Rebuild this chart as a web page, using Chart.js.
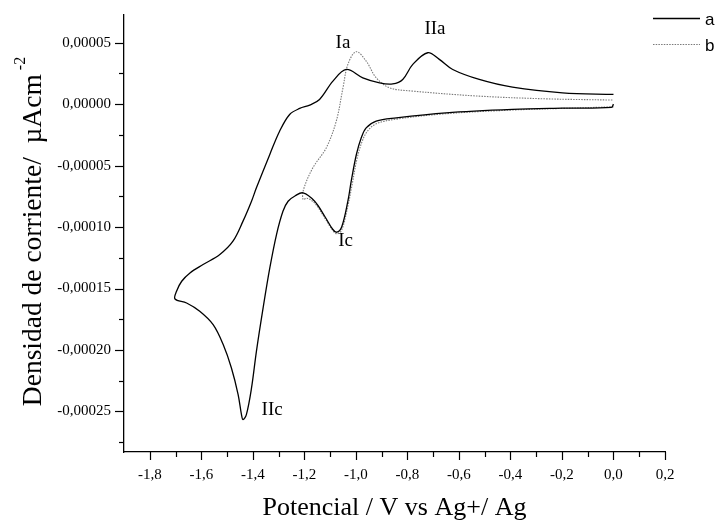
<!DOCTYPE html>
<html>
<head>
<meta charset="utf-8">
<script src="https://cdn.jsdelivr.net/npm/chart.js@4/dist/chart.umd.min.js"></script>
<style>
html,body{margin:0;padding:0;background:#fff;}
#wrap{position:relative;width:720px;height:521px;}
</style>
</head>
<body>
<div id="wrap"><canvas id="c" width="720" height="521"></canvas></div>
<script>
// ---- data (potential V, current density) ----
const aX = [0.0, -0.008, -0.2, -0.392, -0.65, -0.843, -0.921, -0.960, -0.979, -0.998, -1.018, -1.031, -1.055, -1.074, -1.090, -1.121, -1.160, -1.205, -1.235, -1.263, -1.283, -1.308, -1.334, -1.360, -1.386, -1.405, -1.425, -1.438, -1.444, -1.457, -1.483, -1.515, -1.554, -1.606, -1.657, -1.702,
  -1.696, -1.676, -1.644, -1.593, -1.528, -1.477, -1.438, -1.405, -1.386, -1.334, -1.296, -1.257, -1.218, -1.179, -1.141, -1.089, -1.037, -0.973, -0.908, -0.857, -0.818, -0.779, -0.721, -0.676, -0.624, -0.521, -0.392, -0.198, 0.0];
const aY = [0.0, -0.0000026, -0.0000033, -0.0000043, -0.0000071, -0.0000112, -0.0000138, -0.0000193, -0.0000274, -0.000041, -0.0000627, -0.000079, -0.0001, -0.0001042, -0.0001018, -0.0000912, -0.000079, -0.0000722, -0.0000745, -0.000079, -0.0000872, -0.0001061, -0.0001333, -0.0001658, -0.0002011, -0.0002309, -0.0002526, -0.0002567, -0.0002526, -0.0002363, -0.0002147, -0.0001956, -0.0001794, -0.0001685, -0.0001618, -0.0001585,
  -0.0001522, -0.0001441, -0.0001373, -0.0001305, -0.0001223, -0.0001115, -0.0000952, -0.000079, -0.0000681, -0.0000409, -0.000022, -0.0000084, -0.0000035, -0.0000008, 0.0000038, 0.0000187, 0.0000282, 0.0000214, 0.0000173, 0.0000165, 0.0000201, 0.0000323, 0.0000418, 0.0000364, 0.0000282, 0.0000201, 0.0000138, 0.0000092, 0.0000079];

const bX = [0.0, -0.2, -0.392, -0.65, -0.843, -0.921, -0.955, -0.975, -0.995, -1.015, -1.03, -1.055, -1.074, -1.092, -1.121, -1.160, -1.19, -1.205,
  -1.203, -1.167, -1.115, -1.076, -1.050, -1.031, -0.999, -0.960, -0.921, -0.869, -0.779, -0.521, -0.262, 0.0];
const bY = [-0.0000022, -0.0000035, -0.0000048, -0.0000078, -0.0000122, -0.000016, -0.000022, -0.00003, -0.000044, -0.000066, -0.000082, -0.0001025, -0.0001055, -0.000102, -0.0000925, -0.0000805, -0.0000765, -0.0000775,
  -0.0000694, -0.0000518, -0.0000356, -0.0000138, 0.0000133, 0.0000323, 0.0000426, 0.000035, 0.0000214, 0.0000133, 0.0000106, 0.0000065, 0.0000043, 0.0000033];

const seriesLabels = ['a', 'b'];
const xMajorTicks = [-1.8, -1.6, -1.4, -1.2, -1.0, -0.8, -0.6, -0.4, -0.2, 0.0, 0.2];
const xMinorTicks = [-1.7, -1.5, -1.3, -1.1, -0.9, -0.7, -0.5, -0.3, -0.1, 0.1];
const yMajorTicks = [0.00005, 0.0, -0.00005, -0.0001, -0.00015, -0.0002, -0.00025];
const yMinorTicks = [0.000025, -0.000025, -0.000075, -0.000125, -0.000175, -0.000225, -0.000275];

const peakLabels = ['Ia', 'IIa', 'Ic', 'IIc'];
const peakLabelX = [-1.05, -0.693, -1.040, -1.325];
const peakLabelY = [0.0000496, 0.000061, -0.0001114, -0.0002492];

const xTitle = 'Potencial / V vs Ag+/ Ag';
const yTitleMain = 'Densidad de corriente/  \u00B5Acm';
const yTitleSup = '-2';

// ---- build ----
const toPts = (xs, ys) => xs.map((x, i) => ({x: x, y: ys[i]}));
const serif = "'Liberation Serif', 'Times New Roman', serif";
const isIn = (v, arr) => arr.some(t => Math.abs(t - v) < 1e-9);

const extrasPlugin = {
  id: 'extras',
  afterDraw(chart) {
    const ctx = chart.ctx;
    const xs = chart.scales.x, ys = chart.scales.y;
    const area = chart.chartArea;
    ctx.save();
    ctx.strokeStyle = '#000';
    ctx.lineWidth = 1.2;
    xs.ticks.forEach(t => {
      const px = Math.round(xs.getPixelForValue(t.value)) + 0.5;
      const len = isIn(t.value, xMajorTicks) ? 8 : 5;
      ctx.beginPath(); ctx.moveTo(px, area.bottom); ctx.lineTo(px, area.bottom + len); ctx.stroke();
    });
    ys.ticks.forEach(t => {
      const py = Math.round(ys.getPixelForValue(t.value)) + 0.5;
      const len = isIn(t.value, yMajorTicks) ? 9 : 5;
      ctx.beginPath(); ctx.moveTo(area.left, py); ctx.lineTo(area.left - len, py); ctx.stroke();
    });
    // peak labels
    ctx.fillStyle = '#000';
    ctx.font = '19px ' + serif;
    ctx.textAlign = 'center';
    ctx.textBaseline = 'middle';
    peakLabels.forEach((s, i) => {
      ctx.fillText(s, xs.getPixelForValue(peakLabelX[i]), ys.getPixelForValue(peakLabelY[i]));
    });
    // y title with superscript
    ctx.save();
    ctx.translate(41, 231.5);
    ctx.rotate(-Math.PI / 2);
    ctx.font = '27.5px ' + serif;
    const w1 = ctx.measureText(yTitleMain).width;
    ctx.font = '16px ' + serif;
    const w2 = ctx.measureText(yTitleSup).width;
    const gap = 4;
    const start = -(w1 + gap + w2) / 2;
    ctx.textAlign = 'left';
    ctx.textBaseline = 'alphabetic';
    ctx.font = '27.5px ' + serif;
    ctx.fillText(yTitleMain, start, 0);
    ctx.font = '16px ' + serif;
    ctx.fillText(yTitleSup, start + w1 + gap, -16);
    ctx.restore();
    // legend
    ctx.font = "17px 'Liberation Sans', Arial, sans-serif";
    ctx.textAlign = 'left';
    ctx.textBaseline = 'alphabetic';
    chart.data.datasets.forEach((ds, i) => {
      const ly = 18 + i * 26 + 0.5;
      ctx.save();
      ctx.strokeStyle = ds.borderColor;
      ctx.lineWidth = ds.borderWidth;
      ctx.setLineDash(ds.borderDash || []);
      ctx.beginPath(); ctx.moveTo(653, ly); ctx.lineTo(700, ly); ctx.stroke();
      ctx.restore();
      ctx.fillStyle = '#000';
      ctx.fillText(ds.label, 705, ly + 6);
    });
    ctx.restore();
  }
};

new Chart(document.getElementById('c'), {
  type: 'scatter',
  data: {
    datasets: [
      {label: seriesLabels[0], data: toPts(aX, aY), showLine: true, borderColor: '#000', borderWidth: 1.3, pointRadius: 0, tension: 0.35, fill: false},
      {label: seriesLabels[1], data: toPts(bX, bY), showLine: true, borderColor: '#7a7a7a', borderWidth: 1.1, borderDash: [1.5, 1.2], pointRadius: 0, tension: 0.35, fill: false}
    ]
  },
  options: {
    responsive: false,
    animation: false,
    devicePixelRatio: 1,
    layout: {padding: {left: 0, right: 55, top: 15, bottom: 0}},
    plugins: {legend: {display: false}, tooltip: {enabled: false}},
    scales: {
      x: {
        type: 'linear', min: -1.9, max: 0.2,
        afterBuildTicks: s => { s.ticks = xMajorTicks.concat(xMinorTicks).sort((p, q) => p - q).map(v => ({value: v})); },
        afterFit: s => { s.height = 69; s.paddingLeft = 0; s.paddingRight = 0; },
        grid: {drawOnChartArea: false, drawTicks: false},
        border: {display: true, color: '#000', width: 1.3},
        ticks: {
          autoSkip: false, maxRotation: 0, padding: 14, color: '#000',
          font: {family: serif, size: 15},
          callback: v => isIn(v, xMajorTicks) ? v.toFixed(1).replace('.', ',') : ''
        },
        title: {display: true, text: xTitle, color: '#000', font: {family: serif, size: 26, lineHeight: 1}, padding: 0}
      },
      y: {
        type: 'linear', min: -0.000283, max: 0.0000725,
        afterBuildTicks: s => { s.ticks = yMajorTicks.concat(yMinorTicks).sort((p, q) => p - q).map(v => ({value: v})); },
        afterFit: s => { s.width = 124; s.paddingTop = 0; s.paddingBottom = 0; },
        grid: {drawOnChartArea: false, drawTicks: false},
        border: {display: true, color: '#000', width: 1.3},
        ticks: {
          autoSkip: false, padding: 13, color: '#000',
          font: {family: serif, size: 15},
          callback: v => isIn(v, yMajorTicks) ? (Math.abs(v) < 1e-12 ? '0,00000' : v.toFixed(5).replace('.', ',')) : ''
        }
      }
    }
  },
  plugins: [extrasPlugin]
});
</script>
</body>
</html>
